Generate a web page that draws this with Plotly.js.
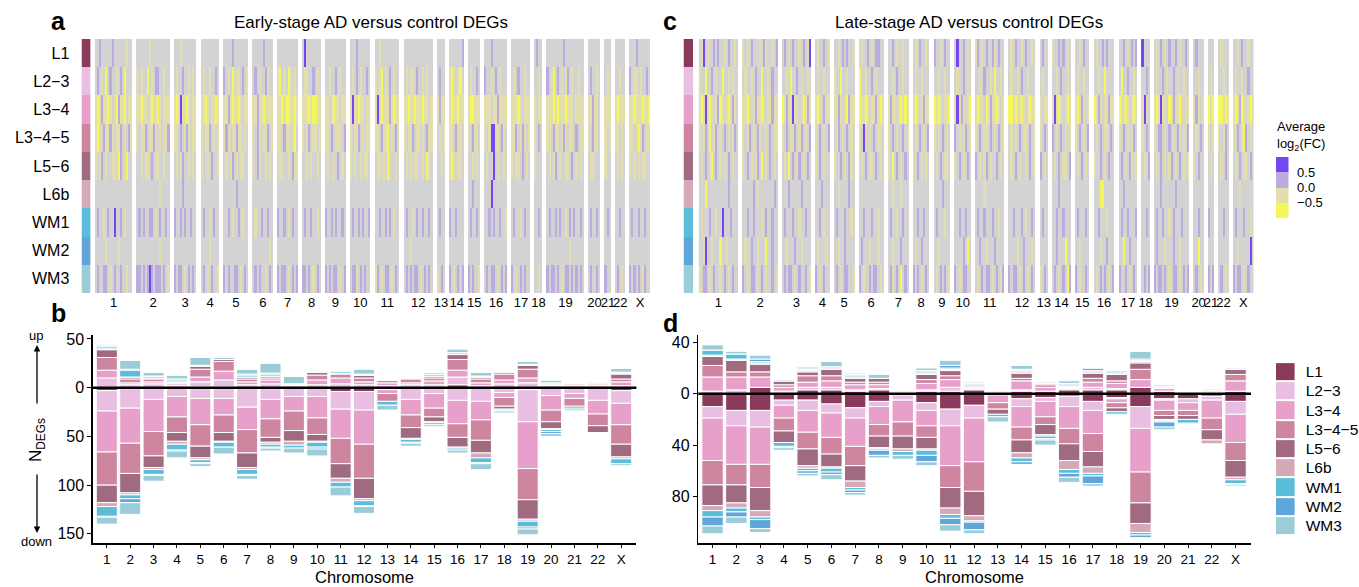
<!DOCTYPE html>
<html><head><meta charset="utf-8">
<script src="https://cdn.plot.ly/plotly-3.0.1.min.js"></script>
<style>html,body{margin:0;padding:0;background:#fff}#chart{width:1359px;height:587px}</style>
</head><body><div id="chart"></div>
<script>
const chromosomes = ["1","2","3","4","5","6","7","8","9","10","11","12","13","14","15","16","17","18","19","20","21","22","X"];
const layers = ["L1","L2\u22123","L3\u22124","L3\u22124\u22125","L5\u22126","L6b","WM1","WM2","WM3"];
const layerColors = ["#8B3A5C","#E8BEE2","#E6A0CA","#CE86A0","#A06A80","#D4AAB9","#5CBDDB","#60A6DA","#9BCDD8"];

// number of DEG columns per chromosome in each heatmap
const early_n = [18,16,11,9,12,10,10,9,10,10,12,14,4,7,6,11,9,4,18,6,3,5,10];
const late_n  = [19,17,14,7,10,12,10,8,8,8,14,13,4,9,7,10,9,4,17,5,3,5,10];
// heatmap rows: '.' not DE (grey), y/Y down (-0.25/-0.75), p/P up (0.25/0.75)
const early_L1 = "..p.....p......y..|......y.........|...y.......|.........|....p.......|.....p....|..........|.P.......|..........|...p......|..y.........|..............|....|......p|......|...p.......|.........|.p..|........p.........|......|...|.....|...p......";
const early_L2_3 = ".p.y.Y.p..y.p.Y...|y.y..Y.y.pp..y..|.y..p..y.y.|.y..y..p.|p.y.Y.yy.p.y|.p.y..py..|yY.y.Yy.y.|.yy..p.y.|..y..p.y..|.y.p.y..p.|y.yY.y.p.y..|.y.yy.p..y.y..|.p..|yYy.yY.|.y..p.|p..y.p.y...|.y.p..y..|..y.|p.yY.p.y.yp.y..y..|.p..y.|.y.|..y..|p.yy.y..p.";
const early_L3_4 = "yYypyyYy.yYpyyY.yy|yyYyy.yYyyYy.yyy|yYyPyyYy.yy|yyYy.yyYy|yypyYyyYy.yy|yypyyYyyyy|yyYyYYyyYy|yyyYyYYyy|yy.yYyy.yy|yPyyYyy.yy|yPyYyyypyYyy|yyYyyYyyyYyy.y|ypyy|yYyyYyy|yYYyyy|yyy.yypyyyy|yyyYy.yyy|y.yy|yyyYyYyyyYyyy.yyyy|yypyy.|yyy|yYyyy|yyYyyyYyyY";
const early_L3_4_5 = "yYy.pyypy.yyp.y.py|y.yyp.yypy.y.yyp|yy.p.ypy.yy|y.yyp.y.y|ypy.yypyy.y.|y.py.yyp.y|yy.pyy.yY.|y.yp.yy.y|yy.p.yyy.p|y.yyp.y.yy|yy.pyyY.y.py|y.yyp.yy.y.pyy|.y.y|yy.pyy.|y.pyy.|y.yPPyy.py.|yyp.ypy.y|y.p.|yy.pyy.ypy.yy.p.yy|y.pyy.|y.y|yy.y.|yy.yYyp.yy";
const early_L5_6 = "y.yp.y..yy.Yp.yY..|..y.yy.p.yy..y..|.y.yp..y.y.|y..y.p..y|.y.yp.y.yy..|y.py..y.y.|.yy..y.pyy|..y.y..y.|.y..y.p.y.|y.y..y.yy.|.yy.y.Yy..y.|.y.y.yy..y.Yy.|..y.|yYy.yy.|..y.y.|.y..P.y..y.|y.yy.p.y.|y...|.y.yp.y..yy.p.y.y.|.yy...|y..|.y.y.|y.y.y.yy..";
const early_L6b = "..................|...........y....|....p......|.........|......p.....|..........|..........|.........|..........|..........|............|..............|....|.......|..p...|...P.......|.........|....|..................|......|...|.....|..........";
const early_WM1 = ".p..y.p..P..p.y...|.p.p..pp.y.p..p.|p..p.p..p..|.p..y.p..|..p.y..p.y..|.y..p..p..|p..p.y.p..|.p..p..y.|p..p.p..p.|.p..p.p..p|..p..p.p.y..|.p..y.p..p..p.|.p..|p..p...|.p..p.|..p.p..p..y|.p..y.p..|..p.|.p..p.p..y.p.p..p.|.p..p.|.p.|..p..|.p..p..p..";
const early_WM2 = ".....y.....y......|...........y....|...........|....y....|............|........y.|..........|.........|..........|..........|............|...y..........|....|.......|......|...........|.........|....|...........y......|......|...|.....|..........";
const early_WM3 = ".p..pp.y.p..p..y..|pp.p.pPp.ppp.p.y|p.pp.y.p.p.|.p.y.p..y|p.p..pp.y.p.|.p.p..y.p.|p.pp.y.p.p|pp.p.y.p.|p.p.pp.y.p|.ppy.p.p..|yp.y.pp.y.p.|.p.p.pp.y.p.p.|y.p.|p.y.p.p|p.p..y|.p.pp.y.p.p|p.y.p.p..|..y.|p.pp.p.y.pp.p.p.p.|.p..p.|p..|.p.y.|p.p.p.yp..";

const late_L1 = ".yP.y..p.p..y.p..y.|y.y.p...y.py..y.p|.p.y.p..y.p.yP|.y..p.y|..y.p.p..y|.y..p.y.pp..|..p.y..y..|.y.p..y.|p..y.p..|.P..p.y.|yp.y.p..py.p..|.y.p..y.p..y.|.p..|y..p.p.y.|..y.p..|.y..p.p...|..p.y.p.p|P...|.y.p.y.p..p.y..p.|.p...|...|.y...|..y.p..y..";
const late_L2_3 = "y..Y..p.y..Y..y.y..|.y..y.p..Y..y.p..|..y.Y..p.y..y.|.y..y..|y..Y..y...|Y..y..p.y...|..y.p..y..|.y..y...|..y..y..|.y..p.y.|..y.p..y.Y..y.|.y..y.p..y...|.y..|..y.p..y.|.y..y..|..y..Y....|.Y..p..y.|..p.|.y..p.y..p.y..y..|..y..|.y.|..y..|.y..y..p..";
const late_L3_4 = "yYyPyYy.ypYy.yYypy.|yyYy.ypyyYy.yypyy|YypyyPyy.yYypy|yYy.pyy|yypy.yYpyy|YyyYy.yypyYy|ypyy.yYyYy|yYy.ypyy|YyYy.yyY|yPypy.yY|yYyy.YypyyYy.y|YYyYyyYy.yYyy|y.yy|yPyYy.yYy|yYypy.y|Yypy.yypyy|YyyYy.yYy|yPy.|yYyPyy.YypyyYy.yy|ypy.y|YyY|YYyYy|yYypYy.yYy";
const late_L3_4_5 = "y.yp.Y.yp.y.p.y.yp.|y.yp.y.py..y.p.yy|y.p.yyp.yp.y.p|y.p.y.p|.yp.y.p.y.|y.Py.y.p.yy.|y.p.y..p.y|.y.p.y.p|y.y.p.y.|p.y.yp.y|y.p.yy.p.y.p.y|.y.y.p.yy.p.y|y.p.|p.y.p.y.y|y.p.y.p|.y.p.yy.p.|y.p.y.yp.|y.p.|y.pp.y.p.y.py.y.p|.y.p.|y.y|y.yp.|y.p.yYp.y.";
const late_L5_6 = ".y.p.yY.p.y.y.p.y..|y.p.y.yp.Y.y.p.y.|.y.Y.p.yp.y.p.|y.p.y..|y..p.y.py.|.y.p.yy.p.y.|y.Y.p.y.p.|y.p.y.y.|.y.p.yy.|y.p.y.p.|p.y.yp.y..p.y.|.y.p.y..y.p.y|p.y.|.y.p.yy.p|.y.p.y.|y..p.y.p..|.p.y.py.y|.y.p|.y.p.y.yp.y.p.y.y|y.p..|.y.|.y.p.|.y.p.yy.p.";
const late_L6b = "...Y..........p....|.....p.y.......p.|...p.....p....|...p...|..y....p..|............|..y...y...|........|....p...|........|....y.........|.............|....|...p.....|.......|...YY.....|..p......|....|...p......p......|.....|...|.....|...y......";
const late_WM1 = ".y...p..y..P...p...|..p..p...y.p..p..|.p...p..y..p..|..p.y..|.p...p..y.|..p...p..y..|.p..y..p..|..p..p..|.p...y..|..p..p..|.p..p...p..y..|..p...p.y..p.|.p..|..p..p...|.p...p.|..p...y...|.p..p...p|..p.|.p..p..y.p...p...|..p..|p..|..p..|.p...p..y.";
const late_WM2 = "..yP..y...Y..y.....|.y..p..y...Y..p..|..y...p..y....|.y...y.|..y..p....|.p...y...y..|..y...p...|.y..p...|..y.....|....p.Y.|..p..y...p....|....y..p...y.|....|..p...Y..|..y....|...y..p...|..Y..p...|....|.p...y...p..y....|..Y..|...|.....|..y.....P.";
const late_WM3 = "y.pp.y.p..y.p.y.p..|p.y.pp.y.p.y..p.y|.p.pp.y.p..p.y|p.y.p..|.p.y.pp..y|p.y..p.pp.y.|.py.p.Y.p.|p.p.y.p.|.y.p.p.y|p.y.pp..|.y.p.pp.y.p.yp|p.pp.y.p.y.p.|y.p.|.p.y.p.Yp|p.y..p.|.y.p.p.y.p|p..p.y.p.|.p.p|p.pp.p.y.pp.y.p.p|.p.y.|p.p|.p.y.|p.pp.y.p..";

// Early-stage DEG counts per chromosome (b): up-regulated
const early_up_L1     = [0,0,0,0,1,1,0,0,0,0,0,0,0,0,0,3,0,0,0,0,0,0,0];
const early_up_L2_3   = [10,3,4,2,5,7,3,4,2,3,4,3,2,3,3,8,2,4,5,2,2,2,2];
const early_up_L3_4   = [8,2,2,2,5,9,3,4,1,5,6,3,3,2,4,7,3,4,5,1,1,1,4];
const early_up_L3_4_5 = [13,4,3,1,8,10,3,2,1,5,4,4,3,4,3,11,4,6,9,0,2,2,3];
const early_up_L5_6   = [8,2,1,1,3,2,2,2,0,3,1,3,0,1,2,5,2,2,4,0,0,0,5];
const early_up_L6b    = [1,0,0,0,1,0,0,0,0,0,0,0,0,0,0,2,0,0,1,0,0,0,1];
const early_up_WM1    = [2,7,2,2,0,0,2,2,0,1,2,1,0,1,2,0,1,1,0,1,0,1,1];
const early_up_WM2    = [1,1,0,1,0,0,1,1,0,0,0,0,0,0,0,0,0,0,0,1,0,0,0];
const early_up_WM3    = [1,9,4,4,8,2,5,10,8,1,1,5,0,1,2,4,4,1,3,3,0,1,4];
// Early-stage: down-regulated
const early_down_L1     = [3,1,0,0,1,1,0,1,0,0,4,4,0,0,0,0,0,0,2,0,0,0,3];
const early_down_L2_3   = [21,20,12,9,10,10,20,11,9,9,18,19,2,12,6,13,14,5,33,8,6,13,13];
const early_down_L3_4   = [42,36,33,21,27,17,23,20,15,22,30,35,4,16,15,24,19,5,48,15,5,14,22];
const early_down_L3_4_5 = [34,31,25,16,22,18,24,19,20,17,26,35,8,13,9,14,21,9,32,12,8,12,20];
const early_down_L5_6   = [18,20,12,9,12,9,15,5,11,7,15,21,0,11,5,10,13,3,20,7,2,7,13];
const early_down_L6b    = [4,2,2,3,2,1,2,2,4,1,4,2,0,1,1,1,5,1,2,1,0,1,2];
const early_down_WM1    = [10,4,5,6,3,5,5,3,3,5,5,5,4,3,2,2,5,1,6,2,2,0,5];
const early_down_WM2    = [1,4,1,1,1,0,1,1,0,2,0,1,0,1,0,0,1,0,2,2,0,0,0];
const early_down_WM3    = [7,12,6,7,3,7,4,3,5,7,9,7,5,3,2,3,6,2,6,3,1,0,2];

// Late-stage DEG counts (d): up-regulated
const late_up_L1     = [0,0,5,1,3,3,2,3,0,2,2,3,0,2,2,3,3,3,5,2,0,1,2];
const late_up_L2_3   = [2,3,0,1,2,2,1,1,1,1,3,1,1,1,0,1,2,1,0,0,0,0,0];
const late_up_L3_4   = [11,10,8,3,4,5,4,3,1,5,6,1,1,7,3,1,4,4,6,2,1,1,8];
const late_up_L3_4_5 = [9,4,4,2,5,4,2,2,1,3,3,1,0,2,2,1,3,2,8,1,0,1,5];
const late_up_L5_6   = [7,9,6,3,3,5,3,3,0,4,4,1,1,4,1,0,4,5,5,1,0,0,4];
const late_up_L6b    = [1,1,1,0,1,1,1,0,0,1,1,0,0,1,0,0,1,1,1,0,0,0,0];
const late_up_WM1    = [4,4,1,1,1,1,1,0,0,1,1,1,0,1,0,1,1,1,1,0,0,0,0];
const late_up_WM2    = [0,0,2,0,1,0,1,0,0,1,2,0,0,1,0,1,2,1,1,0,0,0,1];
const late_up_WM3    = [4,2,3,1,1,4,1,3,0,2,4,1,0,3,1,2,0,1,6,1,0,1,0];
// Late-stage: down-regulated
const late_down_L1     = [10,13,13,5,5,8,11,6,1,7,12,9,0,4,3,2,6,3,10,4,4,2,6];
const late_down_L2_3   = [9,12,13,4,8,7,8,4,4,6,13,10,1,6,3,8,7,1,17,1,3,3,10];
const late_down_L3_4   = [33,30,29,10,17,19,22,14,17,12,31,34,6,16,12,17,18,3,34,8,6,14,22];
const late_down_L3_4_5 = [19,16,18,10,13,13,15,9,11,9,17,23,5,10,6,12,14,4,24,4,4,9,14];
const late_down_L5_6   = [16,14,18,9,13,10,12,9,10,9,16,19,4,10,8,13,12,3,16,3,3,8,13];
const late_down_L6b    = [4,4,5,0,2,1,5,1,2,1,5,4,0,4,1,7,5,0,7,1,0,3,2];
const late_down_WM1    = [5,3,2,3,2,3,2,1,3,4,3,1,2,3,2,3,2,2,2,1,3,0,3];
const late_down_WM2    = [7,4,7,1,2,2,2,4,0,5,5,6,0,2,1,3,6,0,2,4,0,0,1];
const late_down_WM3    = [6,5,3,2,2,4,2,2,3,3,5,3,4,0,4,4,2,1,0,2,1,0,1];

// ---------------------------------------------------------------
const W = 1359, H = 587;
const FONT = 'Liberation Sans, Arial, sans-serif';
const px = v => v / W, py = v => 1 - v / H;

const earlyRows = [early_L1, early_L2_3, early_L3_4, early_L3_4_5, early_L5_6, early_L6b, early_WM1, early_WM2, early_WM3];
const lateRows  = [late_L1, late_L2_3, late_L3_4, late_L3_4_5, late_L5_6, late_L6b, late_WM1, late_WM2, late_WM3];
const earlyUp   = [early_up_L1, early_up_L2_3, early_up_L3_4, early_up_L3_4_5, early_up_L5_6, early_up_L6b, early_up_WM1, early_up_WM2, early_up_WM3];
const earlyDown = [early_down_L1, early_down_L2_3, early_down_L3_4, early_down_L3_4_5, early_down_L5_6, early_down_L6b, early_down_WM1, early_down_WM2, early_down_WM3];
const lateUp    = [late_up_L1, late_up_L2_3, late_up_L3_4, late_up_L3_4_5, late_up_L5_6, late_up_L6b, late_up_WM1, late_up_WM2, late_up_WM3];
const lateDown  = [late_down_L1, late_down_L2_3, late_down_L3_4, late_down_L3_4_5, late_down_L5_6, late_down_L6b, late_down_WM1, late_down_WM2, late_down_WM3];

const GAP = 2;
const valMap = {Y: -0.75, y: -0.25, p: 0.25, P: 0.75};
function buildHeat(rows, counts) {
  const start = []; let pos = 0;
  counts.forEach((n, i) => { start.push(pos); pos += n + (i < counts.length - 1 ? GAP : 0); });
  const total = pos, zv = [], zb = [];
  rows.forEach(str => {
    const segs = str.split('|');
    const rv = new Array(total).fill(null), rb = new Array(total).fill(null);
    counts.forEach((n, i) => {
      const s = segs[i] || '';
      for (let k = 0; k < n; k++) {
        const ch = s[k] || '.';
        rb[start[i] + k] = 1;
        rv[start[i] + k] = (ch in valMap) ? valMap[ch] : null;
      }
    });
    zv.push(rv); zb.push(rb);
  });
  return {zv, zb, total, centers: counts.map((n, i) => start[i] + (n - 1) / 2)};
}
const hA = buildHeat(earlyRows, early_n);
const hC = buildHeat(lateRows, late_n);

const fcScale = [[0,'#F5F55C'],[0.25,'#F5F55C'],[0.25,'#E2DEAE'],[0.5,'#E2DEAE'],[0.5,'#BBACE0'],[0.75,'#BBACE0'],[0.75,'#7447F2'],[1,'#7447F2']];
const greyScale = [[0,'#D3D3D3'],[1,'#D3D3D3']];
const layerScale = [];
layerColors.forEach((c, i) => { layerScale.push([i / 9, c]); layerScale.push([(i + 1) / 9, c]); });
const layerZ = layers.map((_, i) => [i]);

const traces = [];
function heatTraces(h, xa, ya) {
  traces.push({type:'heatmap', z:h.zb, y:layers, xaxis:xa, yaxis:ya, colorscale:greyScale, zmin:0, zmax:1, showscale:false, hoverinfo:'skip'});
  traces.push({type:'heatmap', z:h.zv, y:layers, xaxis:xa, yaxis:ya, colorscale:fcScale, zmin:-1, zmax:1, showscale:false, hoverinfo:'skip'});
}
heatTraces(hA, 'x', 'y');
heatTraces(hC, 'x3', 'y3');
traces.push({type:'heatmap', z:layerZ, y:layers, x:[0], xaxis:'x2', yaxis:'y2', colorscale:layerScale, zmin:-0.5, zmax:8.5, showscale:false, hoverinfo:'skip'});
traces.push({type:'heatmap', z:layerZ, y:layers, x:[0], xaxis:'x4', yaxis:'y4', colorscale:layerScale, zmin:-0.5, zmax:8.5, showscale:false, hoverinfo:'skip'});
// colour key
traces.push({type:'heatmap', z:[[-0.75],[-0.25],[0.25],[0.75]], y:[-0.75,-0.25,0.25,0.75], x:[0], xaxis:'x7', yaxis:'y7', colorscale:fcScale, zmin:-1, zmax:1, showscale:false, hoverinfo:'skip'});
// layer key
traces.push({type:'heatmap', z:layerZ, y:layers, x:[0], xaxis:'x8', yaxis:'y8', colorscale:layerScale, zmin:-0.5, zmax:8.5, showscale:false, ygap:2, hoverinfo:'skip'});

function barTraces(up, down, xa, ya) {
  layers.forEach((l, i) => {
    traces.push({type:'bar', x:chromosomes, y:up[i], xaxis:xa, yaxis:ya, name:l, marker:{color:layerColors[i], line:{color:'white', width:1}}, showlegend:false, hoverinfo:'skip'});
  });
  layers.forEach((l, i) => {
    traces.push({type:'bar', x:chromosomes, y:down[i].map(v => -v), xaxis:xa, yaxis:ya, name:l, marker:{color:layerColors[i], line:{color:'white', width:1}}, showlegend:false, hoverinfo:'skip'});
  });
}
barTraces(earlyUp, earlyDown, 'x5', 'y5');
barTraces(lateUp, lateDown, 'x6', 'y6');

const HY = [py(293), py(39)];
const BY = [py(543), py(335)];
const noAxis = {visible:false, showgrid:false, zeroline:false};
const heatX = (dom, h, anchor) => ({domain:dom, anchor, range:[-0.5, h.total - 0.5], tickvals:h.centers, ticktext:chromosomes, tickangle:0, ticks:'', showline:false, showgrid:false, zeroline:false, tickfont:{size:13}});
const heatY = (dom, anchor) => ({domain:dom, anchor, type:'category', autorange:'reversed', showticklabels:false, showgrid:false, zeroline:false, showline:false, ticks:''});
const barX = (dom, anchor) => ({domain:dom, anchor, type:'category', range:[-0.6, 22.65], tickangle:0, showline:true, linecolor:'black', linewidth:1.5, ticks:'outside', ticklen:3, tickcolor:'black', showgrid:false, zeroline:false, tickfont:{size:13.5}});
const barY = (dom, anchor, range, vals) => ({domain:dom, anchor, range, tickvals:vals, ticktext:vals.map(v => String(Math.abs(v))), showline:true, linecolor:'black', linewidth:1.5, ticks:'outside', ticklen:4, tickcolor:'black', showgrid:false, zeroline:false, tickfont:{size:16}});

const layout = {
  width:W, height:H, margin:{l:0, r:0, t:0, b:0}, paper_bgcolor:'white', plot_bgcolor:'white',
  showlegend:false, barmode:'relative', bargap:0.1,
  font:{family:FONT, color:'#000'},
  xaxis:heatX([px(95), px(650.4)], hA, 'y'),
  yaxis:heatY(HY, 'x'),
  xaxis2:Object.assign({domain:[px(81.5), px(90.7)], anchor:'y2'}, noAxis),
  yaxis2:{domain:HY, anchor:'x2', type:'category', autorange:'reversed', tickfont:{size:16}, ticks:'outside', ticklen:8, tickcolor:'rgba(0,0,0,0)', showgrid:false, zeroline:false, showline:false},
  xaxis3:heatX([px(698.7), px(1253.7)], hC, 'y3'),
  yaxis3:heatY(HY, 'x3'),
  xaxis4:Object.assign({domain:[px(683.5), px(693)], anchor:'y4'}, noAxis),
  yaxis4:heatY(HY, 'x4'),
  xaxis5:barX([px(92.8), px(636.4)], 'y5'),
  yaxis5:barY(BY, 'x5', [-159.4, 54.1], [50, 0, -50, -100, -150]),
  xaxis6:barX([px(698.3), px(1251)], 'y6'),
  yaxis6:barY(BY, 'x6', [-116.2, 45.7], [40, 0, -40, -80]),
  xaxis7:Object.assign({domain:[px(1276), px(1288.5)], anchor:'y7'}, noAxis),
  yaxis7:{domain:[py(218), py(157)], anchor:'x7', side:'right', range:[-1, 1], tickvals:[0.5, 0, -0.5], ticktext:['0.5', '0.0', '\u22120.5'], tickfont:{size:13}, ticks:'outside', ticklen:5, tickcolor:'rgba(0,0,0,0)', showgrid:false, zeroline:false, showline:false},
  xaxis8:Object.assign({domain:[px(1276), px(1294.6)], anchor:'y8'}, noAxis),
  yaxis8:{domain:[py(535.3), py(362.1)], anchor:'x8', side:'right', type:'category', autorange:'reversed', tickfont:{size:15.5}, ticks:'outside', ticklen:7, tickcolor:'rgba(0,0,0,0)', showgrid:false, zeroline:false, showline:false},
  shapes:[
    {type:'line', xref:'x5 domain', x0:0, x1:1, yref:'y5', y0:0, y1:0, line:{color:'black', width:2.5}, layer:'above'},
    {type:'line', xref:'x6 domain', x0:0, x1:1, yref:'y6', y0:0, y1:0, line:{color:'black', width:2.5}, layer:'above'}
  ],
  annotations:[
    {text:'<b>a</b>', x:px(59), y:py(20.6), xref:'paper', yref:'paper', showarrow:false, font:{size:25}, xanchor:'center', yanchor:'middle'},
    {text:'<b>c</b>', x:px(670), y:py(20.6), xref:'paper', yref:'paper', showarrow:false, font:{size:25}, xanchor:'center', yanchor:'middle'},
    {text:'<b>b</b>', x:px(59), y:py(313.3), xref:'paper', yref:'paper', showarrow:false, font:{size:25}, xanchor:'center', yanchor:'middle'},
    {text:'<b>d</b>', x:px(670), y:py(323.3), xref:'paper', yref:'paper', showarrow:false, font:{size:25}, xanchor:'center', yanchor:'middle'},
    {text:'Early-stage AD versus control DEGs', x:px(371), y:py(22), xref:'paper', yref:'paper', showarrow:false, font:{size:17}, xanchor:'center', yanchor:'middle'},
    {text:'Late-stage AD versus control DEGs', x:px(968.8), y:py(22), xref:'paper', yref:'paper', showarrow:false, font:{size:17}, xanchor:'center', yanchor:'middle'},
    {text:'Average<br>log<sub>2</sub>(FC)', x:px(1275), y:py(155), xref:'paper', yref:'paper', showarrow:false, font:{size:13}, xanchor:'left', yanchor:'bottom', align:'left'},
    {text:'Chromosome', x:px(364.6), y:0, xref:'paper', yref:'paper', showarrow:false, font:{size:16.5}, xanchor:'center', yanchor:'bottom', borderpad:0},
    {text:'Chromosome', x:px(974.6), y:0, xref:'paper', yref:'paper', showarrow:false, font:{size:16.5}, xanchor:'center', yanchor:'bottom', borderpad:0},
    {text:'N<sub>DEGs</sub>', x:px(37), y:py(440), xref:'paper', yref:'paper', showarrow:false, font:{size:17}, textangle:-90, xanchor:'center', yanchor:'middle'},
    {text:'up', x:px(36), y:py(335), xref:'paper', yref:'paper', showarrow:false, font:{size:13}, xanchor:'center', yanchor:'middle'},
    {text:'down', x:px(36.5), y:py(541.5), xref:'paper', yref:'paper', showarrow:false, font:{size:13}, xanchor:'center', yanchor:'middle'},
    {text:'', x:px(37), y:py(345), xref:'paper', yref:'paper', showarrow:true, ax:0, ay:60, arrowhead:2, arrowsize:1, arrowwidth:1.3, arrowcolor:'black'},
    {text:'', x:px(37), y:py(533), xref:'paper', yref:'paper', showarrow:true, ax:0, ay:-60, arrowhead:2, arrowsize:1, arrowwidth:1.3, arrowcolor:'black'}
  ]
};

Plotly.newPlot('chart', traces, layout, {displayModeBar:false, staticPlot:true});
</script>
</body></html>
